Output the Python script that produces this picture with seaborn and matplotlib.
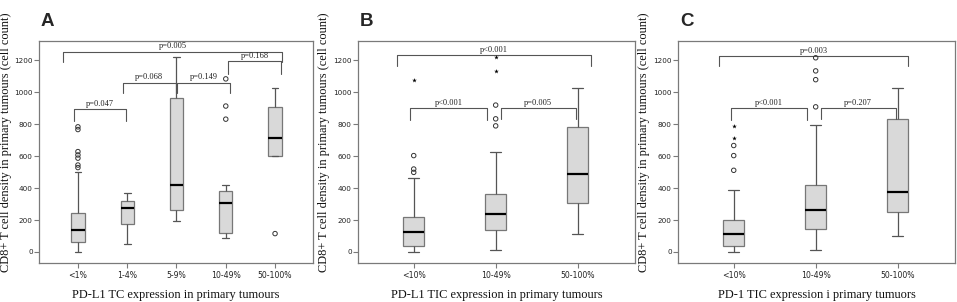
import matplotlib
matplotlib.use("Agg")
import matplotlib.pyplot as plt
import seaborn as sns
import pandas as pd

# ---------------- data ----------------
# Panel A: PD-L1 TC expression
cats_a = ["<1%", "1-4%", "5-9%", "10-49%", "50-100%"]
# five-number summaries: [lower whisker, Q1, median, Q3, upper whisker]
a_lt1 = [0, 63, 140, 241, 503]
a_1_4 = [52, 176, 272, 316, 371]
a_5_9 = [191, 260, 417, 965, 1218]
a_10_49 = [88, 121, 308, 383, 417]
a_50_100 = [599, 599, 716, 909, 1026]
a_out_lt1 = [528, 544, 587, 607, 628, 766, 783]
a_out_10_49 = [831, 913, 1083]
a_out_50_100 = [115]

# Panel B: PD-L1 TIC expression
cats_bc = ["<10%", "10-49%", "50-100%"]
b_lt10 = [0, 40, 124, 220, 463]
b_10_49 = [13, 136, 239, 362, 624]
b_50_100 = [115, 308, 490, 781, 1026]
b_out_lt10 = [498, 519, 603]
b_ext_lt10 = [1078]
b_out_10_49 = [789, 833, 919]
b_ext_10_49 = [1135, 1218]

# Panel C: PD-1 TIC expression
c_lt10 = [0, 36, 115, 201, 390]
c_10_49 = [15, 142, 260, 421, 792]
c_50_100 = [103, 251, 377, 829, 1026]
c_out_lt10 = [511, 603, 666]
c_ext_lt10 = [716, 787]
c_out_10_49 = [908, 1078, 1133, 1215]

# significance brackets: label, left, right (category units), top, leg end
brackets_a = [("p=0.047", -0.08, 0.97, 893, 822),
              ("p=0.068", 0.91, 1.99, 1060, 993),
              ("p=0.149", 2.01, 3.09, 1060, 993),
              ("p=0.168", 3.05, 4.12, 1196, 1115),
              ("p=0.005", -0.30, 4.14, 1254, 1191)]
brackets_b = [("p<0.001", -0.20, 2.16, 1231, 1166),
              ("p<0.001", -0.04, 0.89, 898, 825),
              ("p=0.005", 1.06, 1.98, 898, 835)]
brackets_c = [("p=0.003", -0.18, 2.13, 1225, 1166),
              ("p<0.001", -0.03, 0.89, 898, 825),
              ("p=0.207", 1.06, 1.98, 898, 835)]

xlabels = ["PD-L1 TC expression in primary tumours",
           "PD-L1 TIC expression in primary tumours",
           "PD-1 TIC expression i primary tumuors"]
ylabel = "CD8+ T cell density in primary tumours (cell count)"
letters = ["A", "B", "C"]
yticks = [0, 200, 400, 600, 800, 1000, 1200]

# ---------------- style ----------------
sns.set_theme(style="white")
plt.rcParams["font.family"] = ["DejaVu Sans"]

GRAY = "#7a7a7a"
BOXFACE = "#d9d9d9"


def long_df(cats, groups):
    rows = []
    for c, vals in zip(cats, groups):
        for v in vals:
            rows.append({"group": c, "value": v})
    return pd.DataFrame(rows)


panels = [
    (cats_a, [a_lt1, a_1_4, a_5_9, a_10_49, a_50_100],
     [a_out_lt1, [], [], a_out_10_49, a_out_50_100],
     [[], [], [], [], []], brackets_a, 0.27, (-0.79, 4.77)),
    (cats_bc, [b_lt10, b_10_49, b_50_100],
     [b_out_lt10, b_out_10_49, []],
     [b_ext_lt10, b_ext_10_49, []], brackets_b, 0.26, (-0.68, 2.70)),
    (cats_bc, [c_lt10, c_10_49, c_50_100],
     [c_out_lt10, c_out_10_49, []],
     [c_ext_lt10, [], []], brackets_c, 0.26, (-0.68, 2.70)),
]

fig = plt.figure(figsize=(9.57, 3.02), dpi=100)
lefts = [39, 358, 678]
widths = [274, 277, 277]
letter_x = [41, 360, 680]
W, H = 957, 302
for i, (cats, groups, outs, exts, brs, bw, xl) in enumerate(panels):
    ax = fig.add_axes([lefts[i] / W, 1 - 263 / H, widths[i] / W, 222 / H])
    df = long_df(cats, groups)
    df["group"] = pd.Categorical(df["group"], categories=cats)
    sns.boxplot(data=df, x="group", y="value", order=cats, ax=ax,
                width=bw, whis=(0, 100), showfliers=False,
                color=BOXFACE, linecolor="#666666", linewidth=0.9,
                boxprops=dict(facecolor=BOXFACE, edgecolor="#777777"),
                whiskerprops=dict(color="#555555", linewidth=0.9),
                capprops=dict(color="#555555", linewidth=0.9),
                medianprops=dict(color="black", linewidth=1.6))
    dfo = long_df(cats, outs)
    if len(dfo):
        sns.stripplot(data=dfo, x="group", y="value", order=cats, ax=ax,
                      jitter=False, marker="o", size=3.2, facecolor="none",
                      edgecolor="#333333", linewidth=0.7)
    dfe = long_df(cats, exts)
    if len(dfe):
        sns.stripplot(data=dfe, x="group", y="value", order=cats, ax=ax,
                      jitter=False, marker="*", size=3.5, color="black",
                      linewidth=0)
    for lab, x1, x2, yt, yl in brs:
        ax.plot([x1, x1, x2, x2], [yl, yt, yt, yl], color="#555555",
                lw=0.8, solid_joinstyle="round")
        ax.text((x1 + x2) / 2, yt + 8, lab, ha="center", va="bottom",
                fontsize=6, family=["Liberation Serif"], color="#222222")
    ax.set_xlim(*xl)
    ax.set_ylim(-69, 1320)
    ax.set_yticks(yticks)
    ax.set_yticklabels([str(t) for t in yticks])
    ax.tick_params(axis="both", which="both", direction="out", length=3.5,
                   width=0.8, color=GRAY, labelsize=5.2, pad=1,
                   left=True, bottom=True, labelcolor="#222222")
    ax.tick_params(axis="x", labelsize=5.6, pad=2)
    for s in ax.spines.values():
        s.set_color(GRAY)
        s.set_linewidth(0.9)
    ax.set_xlabel(xlabels[i], family=["Liberation Serif"], fontsize=8.9,
                  labelpad=7, color="#111111")
    ax.set_ylabel(ylabel, family=["Liberation Serif"], fontsize=8.9,
                  color="#111111")
    ax.yaxis.set_label_coords(-0.1, 0.545)
    fig.text(letter_x[i] / W, 1 - 22 / H, letters[i], fontsize=13.5,
             fontweight="bold", family=["Liberation Sans"], va="center",
             ha="left")

fig.savefig("out.png", dpi=100)
